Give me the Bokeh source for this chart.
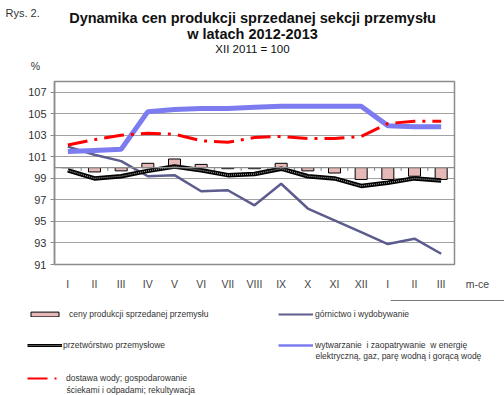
from bokeh.plotting import figure
from bokeh.models import Range1d, FixedTicker, Span, Label, Legend, LegendItem
from bokeh.embed import file_html
from bokeh.resources import INLINE

months = ["I", "II", "III", "IV", "V", "VI", "VII", "VIII", "IX", "X", "XI", "XII", "I", "II", "III"]
ceny = [100.0, 99.6, 99.7, 100.4, 100.8, 100.3, 99.9, 99.9, 100.4, 99.7, 99.5, 98.9, 98.9, 99.2, 98.9]
gornictwo = [101.95, 101.2, 100.6, 99.2, 99.3, 97.8, 97.9, 96.5, 98.5, 96.2, 95.1, 94.0, 92.9, 93.4, 92.0]
przetworstwo = [99.75, 99.0, 99.2, 99.7, 100.1, 99.75, 99.3, 99.4, 99.9, 99.2, 99.0, 98.3, 98.6, 99.0, 98.8]
wytwarzanie = [101.5, 101.6, 101.7, 105.2, 105.4, 105.5, 105.5, 105.6, 105.7, 105.7, 105.7, 105.7, 103.9, 103.8, 103.8]
dostawa = [102.1, 102.6, 103.0, 103.2, 103.1, 102.5, 102.35, 102.8, 102.9, 102.7, 102.7, 102.9, 104.1, 104.3, 104.3]
y_ticks = [91, 93, 95, 97, 99, 101, 103, 105, 107]
baseline = 100

FONT = "Liberation Sans"
xs = list(range(1, len(months) + 1))
bounds = [i + 0.5 for i in xs[:-1]]

W = 504
H1, H2, H3 = 75, 225, 95            # header, chart, legend heights (page px)
FL, FT, FR, FB = 54, 81, 454, 264   # chart frame edges in page px

bar_style = dict(fill_color="#e6b9b8", line_color="black", line_width=1)
gor_style = dict(line_color="#5c5c8e", line_width=2.5)
prz1_style = dict(line_color="black", line_width=4.5)
prz2_style = dict(line_color="#a0a0a0", line_width=1.2, line_dash="1 1")
wyt_style = dict(line_color="#7c7cf0", line_width=5)
dos_style = dict(line_color="#ff0000", line_width=3, line_dash="20 7 3 7")


def blank_fig(h):
    f = figure(width=W, height=h, output_backend="svg", toolbar_location=None,
               x_axis_location=None, y_axis_location=None,
               x_range=Range1d(0, 1), y_range=Range1d(0, 1), min_border=0)
    f.min_border_left = f.min_border_right = f.min_border_top = f.min_border_bottom = 0
    f.outline_line_color = None
    f.xgrid.visible = False
    f.ygrid.visible = False
    f.background_fill_color = "white"
    f.border_fill_color = "white"
    return f


def put(f, top, text, px, py, size, bold=False, align="left", color="#333333"):
    f.add_layout(Label(x=px, y=top + f.height - py, x_units="screen", y_units="screen", text=text,
                       text_font=FONT, text_font_size=size, text_align=align,
                       text_baseline="middle", text_color=color,
                       text_font_style="bold" if bold else "normal"))


# ---- header
head = blank_fig(H1)
put(head, 0, "Rys. 2.", 5, 12, "11px")
put(head, 0, "Dynamika cen produkcji sprzedanej sekcji przemysłu", 252, 17, "14.5px", True, "center", "#111111")
put(head, 0, "w latach 2012-2013", 252, 33, "14.5px", True, "center", "#111111")
put(head, 0, "XII 2011 = 100", 252, 48, "11.5px", False, "center", "#111111")
put(head, 0, "%", 35, 65, "10.5px", False, "center")

# ---- chart
p = figure(width=W, height=H2, output_backend="svg", toolbar_location=None,
           x_range=Range1d(0.5, len(months) + 0.5), y_range=Range1d(91, 108),
           min_border_left=FL, min_border_right=W - FR, min_border_top=FT - H1,
           min_border_bottom=H1 + H2 - FB)
p.background_fill_color = "white"
p.border_fill_color = "white"
p.outline_line_color = "#8c8c8c"
p.outline_line_width = 1.5

p.xgrid.visible = False
p.ygrid.ticker = FixedTicker(ticks=y_ticks)
p.ygrid.grid_line_color = "#444444"
p.ygrid.grid_line_dash = "1 1"
p.ygrid.grid_line_width = 1

p.yaxis.ticker = FixedTicker(ticks=y_ticks)
p.yaxis.axis_line_color = "#8c8c8c"
p.yaxis.axis_line_width = 1.5
p.yaxis.major_tick_line_color = "#8c8c8c"
p.yaxis.major_tick_out = 4
p.yaxis.major_tick_in = 0
p.yaxis.minor_tick_line_color = None
p.yaxis.major_label_standoff = 4
p.yaxis.major_label_text_font = FONT
p.yaxis.major_label_text_font_size = "11px"
p.yaxis.major_label_text_color = "#333333"

p.xaxis.ticker = FixedTicker(ticks=xs)
p.xaxis.major_label_overrides = {x: m for x, m in zip(xs, months)}
p.xaxis.axis_line_color = None
p.xaxis.major_tick_line_color = None
p.xaxis.minor_tick_line_color = None
p.xaxis.major_tick_out = 0
p.xaxis.major_label_standoff = 13
p.xaxis.major_label_text_font = FONT
p.xaxis.major_label_text_font_size = "10.5px"
p.xaxis.major_label_text_color = "#444444"

p.vbar(x=xs, bottom=baseline, top=ceny, width=0.45, **bar_style)
p.add_layout(Span(location=baseline, dimension="width", line_color="#8c8c8c", line_width=1.2))
p.segment(x0=bounds, y0=[baseline] * len(bounds), x1=bounds, y1=[baseline - 0.3] * len(bounds),
          line_color="#8c8c8c", line_width=1.2)
p.line(xs, gornictwo, **gor_style)
p.line(xs, przetworstwo, **prz1_style)
p.line(xs, przetworstwo, **prz2_style)
p.line(xs, wytwarzanie, **wyt_style)
p.line(xs, dostawa, **dos_style)

p.add_layout(Label(x=477 - FR, y=FB - 283, x_units="screen", y_units="screen", text="m-ce",
                   text_font=FONT, text_font_size="10.5px", text_align="center",
                   text_baseline="middle", text_color="#444444"), "right")

# ---- legend (key renderers carry the same series but lie outside this figure's view)
leg = blank_fig(H3)
TOP3 = H1 + H2
k_bar = leg.vbar(x=xs, bottom=baseline, top=ceny, width=0.45, **bar_style)
k_gor = leg.line(xs, gornictwo, line_color="#5c5c8e", line_width=2.2)
k_prz1 = leg.line(xs, przetworstwo, line_color="black", line_width=2.8)
k_prz2 = leg.line(xs, przetworstwo, line_color="#a0a0a0", line_width=1, line_dash="1 1")
k_wyt = leg.line(xs, wytwarzanie, line_color="#7c7cf0", line_width=2.4)
k_dos = leg.line(xs, dostawa, line_color="#ff0000", line_width=2.2, line_dash="20 7 2 7")


def key(label, rends, px, py, gh, standoff):
    lg = Legend(items=[LegendItem(label=label, renderers=rends)],
                location=(px, TOP3 + H3 - py - 5), padding=0, margin=0, spacing=0,
                border_line_color=None, background_fill_alpha=0,
                glyph_width=35, glyph_height=gh, label_height=10,
                label_standoff=standoff, label_text_font=FONT, label_text_font_size="8.5px",
                label_text_color="#333333")
    leg.add_layout(lg, "center")


key("ceny produkcji sprzedanej przemysłu", [k_bar], 27, 314, 6, 7)
key("przetwórstwo przemysłowe", [k_prz1, k_prz2], 27, 345, 10, 1)
key("dostawa wody; gospodarowanie", [k_dos], 27, 378, 10, 4)
key("górnictwo i wydobywanie", [k_gor], 278, 314, 10, 2)
key("wytwarzanie  i zaopatrywanie  w energię", [k_wyt], 278, 345, 10, 2)
put(leg, TOP3, "ściekami i odpadami; rekultywacja", 66, 389, "8.5px")
put(leg, TOP3, "elektryczną,  gaz, parę  wodną i gorącą wodę", 315, 355, "8.5px")

open("out.html", "w").write(file_html([head, p, leg], INLINE))
